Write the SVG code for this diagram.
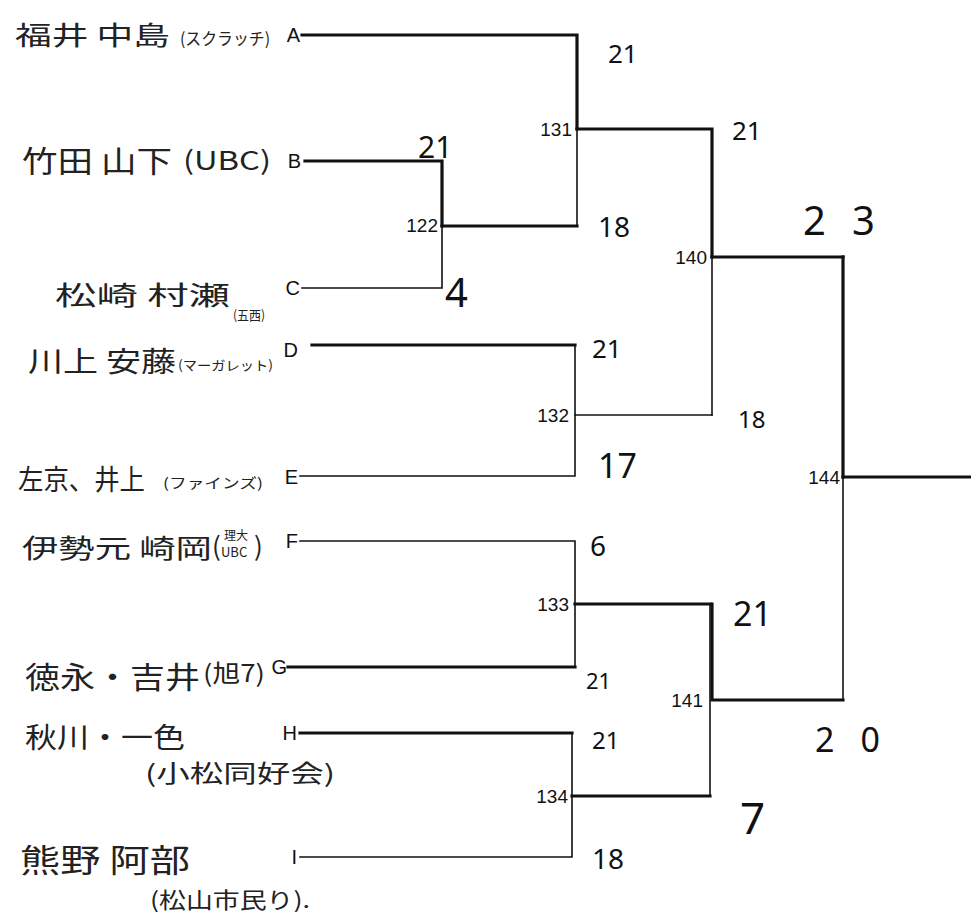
<svg xmlns="http://www.w3.org/2000/svg" width="971" height="922" viewBox="0 0 971 922">
<style>
.bg{fill:#ffffff}
.jp{font-family:"Noto Sans CJK JP","Noto Sans",sans-serif;fill:#222}
.lt{font-family:"Liberation Sans",Arial,sans-serif;font-size:20px;fill:#111;text-anchor:end}
.nd{font-family:"Liberation Sans",Arial,sans-serif;font-size:19px;fill:#111;text-anchor:end}
.sc{font-family:"Noto Sans","DejaVu Sans",sans-serif;fill:#111}
.thin{stroke:#111;stroke-width:1.6;fill:none;stroke-linecap:square}
.thick{stroke:#111;stroke-width:3.2;fill:none;stroke-linecap:square}
</style>
<rect class="bg" x="0" y="0" width="971" height="922"/>

<g id="connectors">
  <path class="thick" d="M302 35 H577 V129"/>
  <path class="thin" d="M577 129 V226"/>
  <path class="thick" d="M305 161 H442 V226"/>
  <path class="thin" d="M442 226 V288 H302"/>
  <path class="thick" d="M442 226 H577"/>
  <path class="thick" d="M312 345 H575"/>
  <path class="thin" d="M575 345 V476 H300"/>
  <path class="thin" d="M575 415 H712"/>
  <path class="thin" d="M300 541 H575 V604"/>
  <path class="thick" d="M288 667 H575"/>
  <path class="thin" d="M575 604 V667"/>
  <path class="thick" d="M575 604 H710"/>
  <path class="thick" d="M300 733 H572"/>
  <path class="thin" d="M572 733 V857 H300"/>
  <path class="thick" d="M572 796 H710"/>
  <path class="thick" d="M577 129 H712 V257"/>
  <path class="thin" d="M712 257 V415"/>
  <path class="thick" d="M712 257 H843"/>
  <path class="thin" d="M710 604 V796"/>
  <path class="thick" d="M712 604 V700 H843"/>
  <path class="thick" d="M843 257 V477"/>
  <path class="thin" d="M843 477 V700"/>
  <path class="thick" d="M843 477 H971"/>
</g>

<g id="entry-A">
  <text class="jp" x="15" y="45" font-size="26" textLength="155" lengthAdjust="spacingAndGlyphs">福井 中島</text>
  <text class="jp" x="180" y="45" font-size="17" textLength="90" lengthAdjust="spacingAndGlyphs">(スクラッチ)</text>
  <text class="lt" x="300" y="42">A</text>
</g>
<g id="entry-B">
  <text class="jp" x="22" y="172" font-size="30" textLength="150" lengthAdjust="spacingAndGlyphs">竹田 山下</text>
  <text class="jp" x="183" y="170" font-size="26" textLength="88" lengthAdjust="spacingAndGlyphs">(UBC)</text>
  <text class="lt" x="301" y="168">B</text>
</g>
<g id="entry-C">
  <text class="jp" x="55" y="305" font-size="26" textLength="175" lengthAdjust="spacingAndGlyphs">松崎 村瀬</text>
  <text class="jp" x="233" y="320" font-size="13" textLength="32" lengthAdjust="spacingAndGlyphs">(五西)</text>
  <text class="lt" x="300" y="295">C</text>
</g>
<g id="entry-D">
  <text class="jp" x="28" y="372" font-size="28" textLength="148" lengthAdjust="spacingAndGlyphs">川上 安藤</text>
  <text class="jp" x="178" y="370" font-size="13" textLength="95" lengthAdjust="spacingAndGlyphs">(マーガレット)</text>
  <text class="lt" x="298" y="357">D</text>
</g>
<g id="entry-E">
  <text class="jp" x="18" y="490" font-size="28" textLength="127" lengthAdjust="spacingAndGlyphs">左京、井上</text>
  <text class="jp" x="163" y="488" font-size="14" textLength="100" lengthAdjust="spacingAndGlyphs">(ファインズ)</text>
  <text class="lt" x="298" y="484">E</text>
</g>
<g id="entry-F">
  <text class="jp" x="22" y="558" font-size="26" textLength="190" lengthAdjust="spacingAndGlyphs">伊勢元 崎岡</text>
  <text class="jp" x="212" y="556" font-size="26">(</text>
  <text class="jp" x="224" y="540" font-size="12">理大</text>
  <text class="jp" x="221" y="557" font-size="13">UBC</text>
  <text class="jp" x="254" y="556" font-size="26">)</text>
  <text class="lt" x="298" y="548">F</text>
</g>
<g id="entry-G">
  <text class="jp" x="25" y="688" font-size="30" textLength="175" lengthAdjust="spacingAndGlyphs">徳永・吉井</text>
  <text class="jp" x="203" y="682" font-size="24" textLength="62" lengthAdjust="spacingAndGlyphs">(旭7)</text>
  <text class="lt" x="287" y="674">G</text>
</g>
<g id="entry-H">
  <text class="jp" x="25" y="748" font-size="28" textLength="160" lengthAdjust="spacingAndGlyphs">秋川・一色</text>
  <text class="lt" x="297" y="740">H</text>
  <text class="jp" x="145" y="782" font-size="24" textLength="190" lengthAdjust="spacingAndGlyphs">(小松同好会)</text>
</g>
<g id="entry-I">
  <text class="jp" x="20" y="872" font-size="32" textLength="170" lengthAdjust="spacingAndGlyphs">熊野 阿部</text>
  <text class="lt" x="297" y="864">I</text>
  <text class="jp" x="150" y="908" font-size="22" textLength="160" lengthAdjust="spacingAndGlyphs">(松山市民り).</text>
</g>

<g id="match-122"><text class="nd" x="438" y="232">122</text></g>
<g id="match-131"><text class="nd" x="572" y="136">131</text></g>
<g id="match-132"><text class="nd" x="569" y="422">132</text></g>
<g id="match-133"><text class="nd" x="569" y="611">133</text></g>
<g id="match-134"><text class="nd" x="568" y="803">134</text></g>
<g id="match-140"><text class="nd" x="707" y="264">140</text></g>
<g id="match-141"><text class="nd" x="703" y="707">141</text></g>
<g id="match-144"><text class="nd" x="840" y="484">144</text></g>

<g id="scores">
  <text class="sc" x="608" y="63" font-size="26">21</text>
  <text class="sc" x="418" y="158" font-size="30">21</text>
  <text class="sc" x="598" y="237" font-size="28">18</text>
  <text class="sc" x="445" y="307" font-size="40">4</text>
  <text class="sc" x="732" y="140" font-size="26">21</text>
  <text class="sc" x="803" y="235" font-size="40" textLength="72" lengthAdjust="spacing">23</text>
  <text class="sc" x="592" y="358" font-size="26">21</text>
  <text class="sc" x="738" y="428" font-size="24">18</text>
  <text class="sc" x="598" y="478" font-size="34">17</text>
  <text class="sc" x="590" y="556" font-size="28">6</text>
  <text class="sc" x="586" y="689" font-size="22">21</text>
  <text class="sc" x="733" y="626" font-size="34">21</text>
  <text class="sc" x="592" y="749" font-size="24">21</text>
  <text class="sc" x="740" y="834" font-size="44">7</text>
  <text class="sc" x="815" y="752" font-size="34" textLength="65" lengthAdjust="spacing">20</text>
  <text class="sc" x="592" y="869" font-size="28">18</text>
</g>
</svg>
